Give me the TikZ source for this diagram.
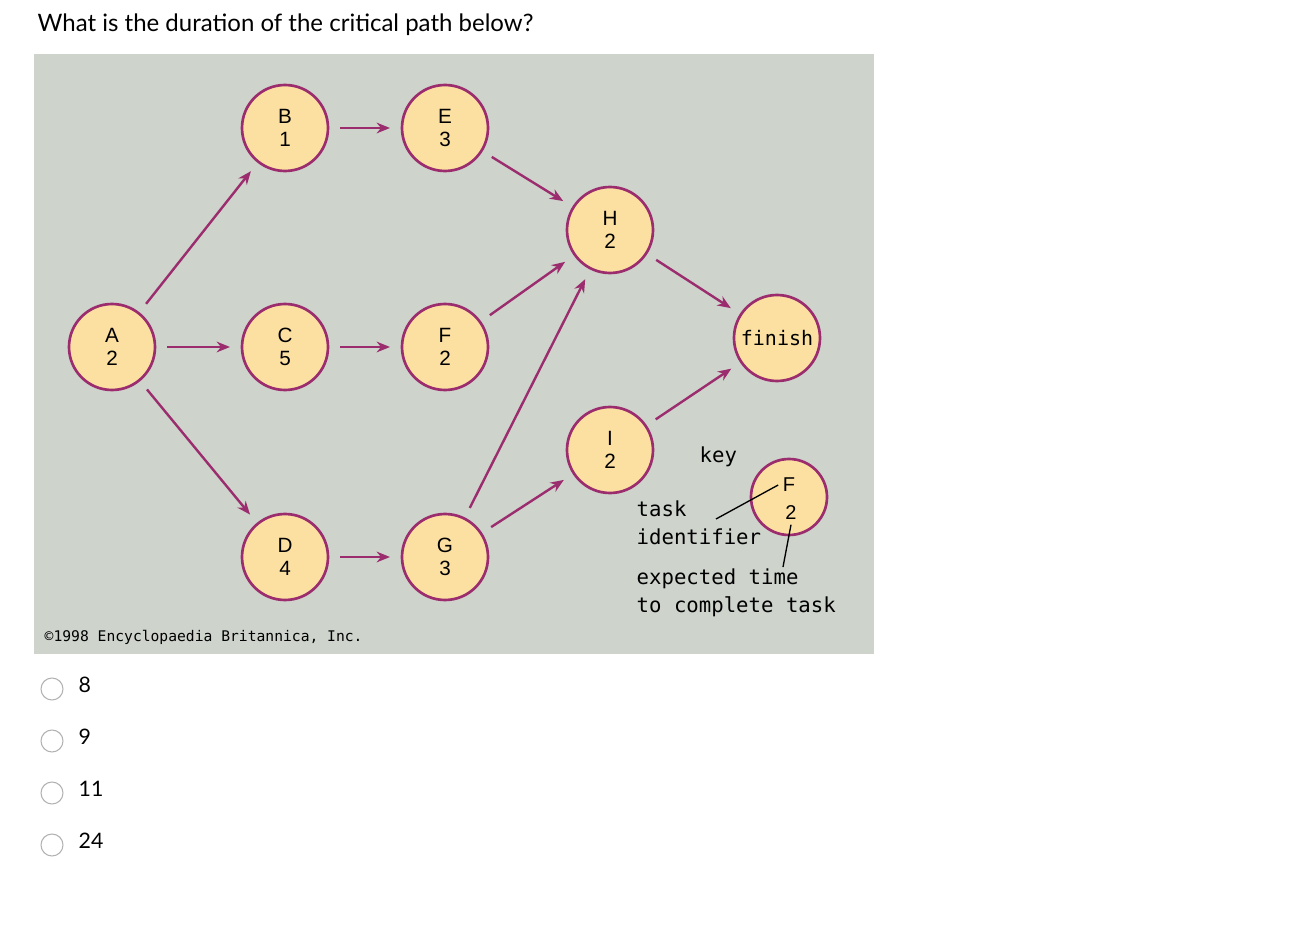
\documentclass[tikz,border=0pt]{standalone}
\usepackage{fontspec}
\setmainfont{Lato}
\newfontfamily\monof{DejaVu Sans Mono}
\newfontfamily\helv{Liberation Sans}
\usetikzlibrary{arrows.meta}
\definecolor{panel}{HTML}{CED3CC}
\definecolor{nfill}{HTML}{FCE0A2}
\definecolor{purp}{HTML}{9B2C6E}
\tikzset{
 task/.style={circle,draw=purp,line width=2pt,fill=nfill,minimum size=64.5pt,inner sep=0pt,align=center,font=\helv\fontsize{15.5}{17}\selectfont},
 arr/.style={purp,line width=1.8pt,-{Stealth[length=10pt,width=8pt]},shorten >=8pt,shorten <=8pt},
 keyt/.style={anchor=west,align=left,font=\monof\fontsize{15.5}{21}\selectfont}
}
\begin{document}
\begin{tikzpicture}[x=0.75pt,y=-0.75pt]
\useasboundingbox (0,0) rectangle (1300,934);
\fill[white] (0,0) rectangle (1300,934);
\node[anchor=west,font=\fontsize{18}{20}\selectfont] (q) at (33,25) {What is the duration of the critical path below?};
\fill[panel] (34,54) rectangle (874,654);
\node[task] (A) at (112,347) {A\\2};
\node[task] (B) at (285,128) {B\\1};
\node[task] (C) at (285,347) {C\\5};
\node[task] (D) at (285,557) {D\\4};
\node[task] (E) at (445,128) {E\\3};
\node[task] (F) at (445,347) {F\\2};
\node[task] (G) at (445,557) {G\\3};
\node[task] (H) at (610,230) {H\\2};
\node[task] (I) at (610,450) {I\\2};
\node[task,font=\monof\fontsize{15}{17}\selectfont] (fin) at (777,338) {finish};
\node[task,minimum size=57pt] (K) at (789,497) {\phantom{F}\\[-2pt]\phantom{2}};
\node[font=\helv\fontsize{15}{17}\selectfont] (KF) at (789,485) {F};
\node[font=\helv\fontsize{15}{17}\selectfont] (K2) at (791,513) {2};
\foreach \a/\b in {A/B,A/C,A/D,B/E,C/F,D/G,E/H,F/H,G/H,G/I,H/fin,I/fin} \draw[arr] (\a) -- (\b);
\node[keyt] (key) at (695,457) {key};
\node[keyt] (tid) at (632,523) {task\\identifier};
\node[keyt] (exp) at (632,593) {expected time\\to complete task};
\coordinate (t1) at (716,519);
\coordinate (e1) at (783,567);
\draw[line width=1pt] (t1) -- (KF.west);
\draw[line width=1pt] (e1) -- (K2.south);
\node[anchor=west,font=\monof\fontsize{11}{14}\selectfont] (cp) at (40,637) {©1998 Encyclopaedia Britannica, Inc.};
\foreach \y/\t in {689/8,741/9,793/11,845/24}{
 \draw[gray!60,line width=0.8pt,fill=white] (52,\y) circle (11);
 \node[anchor=west,font=\fontsize{16}{18}\selectfont] at (74,\y-4) {\t};
}
\end{tikzpicture}
\end{document}
